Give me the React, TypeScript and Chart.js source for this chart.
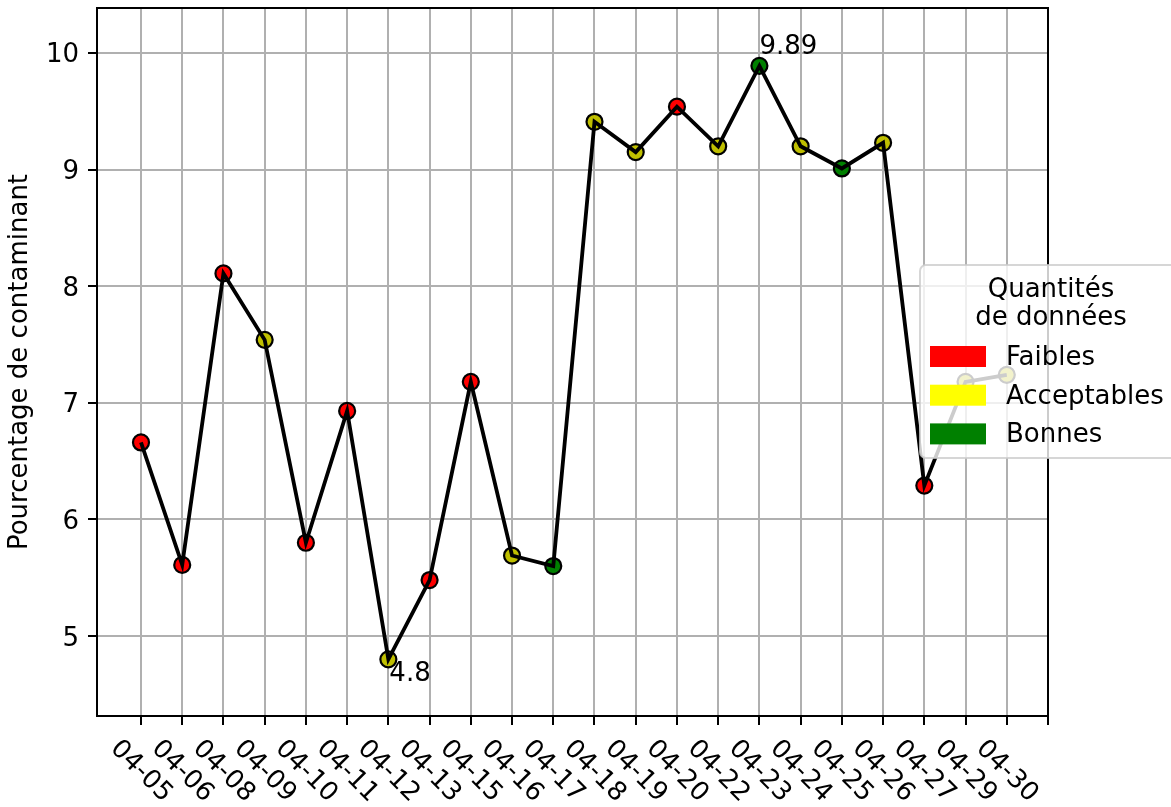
import React, { useEffect, useRef } from 'react';
import { Chart, registerables } from 'chart.js';

Chart.register(...registerables);

// ---- data ----
const dates = ['04-05', '04-06', '04-08', '04-09', '04-10', '04-11', '04-12', '04-13', '04-15', '04-16', '04-17', '04-18', '04-19', '04-20', '04-22', '04-23', '04-24', '04-25', '04-26', '04-27', '04-29', '04-30'];
const values = [6.66, 5.61, 8.11, 7.54, 5.80, 6.93, 4.8, 5.48, 7.18, 5.69, 5.60, 9.41, 9.15, 9.54, 9.20, 9.89, 9.20, 9.01, 9.23, 6.29, 7.18, 7.24];
// F = Faibles, A = Acceptables, B = Bonnes
const quality = ['F', 'F', 'F', 'A', 'F', 'F', 'A', 'F', 'F', 'A', 'B', 'A', 'A', 'F', 'A', 'B', 'A', 'B', 'A', 'F', 'A', 'A'];
const yTicks = [5, 6, 7, 8, 9, 10];
const legendKeys = ['F', 'A', 'B'];
const legendLabels = ['Faibles', 'Acceptables', 'Bonnes'];
const legendTitle = ['Quantités', 'de données'];
const yTitle = 'Pourcentage de contaminant';
const annotatedIdx = [15, 6]; // max and min

const markerColors: Record<string, string> = { F: '#ff0000', A: '#bfbf00', B: '#008000' };
const patchColors: Record<string, string> = { F: '#ff0000', A: '#ffff00', B: '#008000' };

const FONT = '"DejaVu Sans", sans-serif';
const FS = 26;

const customPlugin = {
  id: 'mplCustom',
  afterDatasetsDraw(chart: any) {
    const { ctx, chartArea: ca, scales } = chart;
    ctx.save();
    // top and right spines
    ctx.strokeStyle = '#000';
    ctx.lineWidth = 2;
    ctx.lineCap = 'square';
    ctx.beginPath();
    ctx.moveTo(ca.left, ca.top);
    ctx.lineTo(ca.right, ca.top);
    ctx.lineTo(ca.right, ca.bottom);
    ctx.stroke();

    ctx.fillStyle = '#000';
    ctx.font = `${FS}px ${FONT}`;

    // y tick labels
    ctx.textAlign = 'right';
    ctx.textBaseline = 'alphabetic';
    yTicks.forEach((v) => {
      const y = scales.y.getPixelForValue(v);
      ctx.fillText(String(v), ca.left - 9 - 9, y + FS * 0.365);
    });

    // annotations
    ctx.textAlign = 'left';
    const maxI = annotatedIdx[0];
    const minI = annotatedIdx[1];
    const px1 = scales.x.getPixelForValue(maxI);
    const py1 = scales.y.getPixelForValue(values[maxI]);
    ctx.fillText(String(values[maxI]), px1, py1 - 12);
    const px2 = scales.x.getPixelForValue(minI);
    const py2 = scales.y.getPixelForValue(values[minI]);
    ctx.fillText(String(values[minI]), px2 + 1, py2 + 22);

    // x tick labels rotated -45 (clockwise)
    const h = FS * 1.164;
    dates.forEach((d, i) => {
      const x = scales.x.getPixelForValue(i);
      const w = ctx.measureText(d).width;
      const s = (w + h) * Math.SQRT1_2;
      const top = ca.bottom + 9 + 9;
      ctx.save();
      ctx.translate(x, top + s / 2);
      ctx.rotate(Math.PI / 4);
      ctx.textAlign = 'center';
      ctx.textBaseline = 'middle';
      ctx.fillText(d, 0, 0);
      ctx.restore();
    });

    // y title
    ctx.save();
    ctx.translate(27, (ca.top + ca.bottom) / 2);
    ctx.rotate(-Math.PI / 2);
    ctx.textAlign = 'center';
    ctx.textBaseline = 'alphabetic';
    ctx.fillText(yTitle, 0, 0);
    ctx.restore();
    ctx.restore();
  },
  afterDraw(chart: any) {
    const { ctx } = chart;
    ctx.save();
    // legend box
    const bx = 920, by = 265, bw = 275, bh = 193, r = 6;
    ctx.beginPath();
    ctx.moveTo(bx + r, by);
    ctx.lineTo(bx + bw - r, by);
    ctx.arcTo(bx + bw, by, bx + bw, by + r, r);
    ctx.lineTo(bx + bw, by + bh - r);
    ctx.arcTo(bx + bw, by + bh, bx + bw - r, by + bh, r);
    ctx.lineTo(bx + r, by + bh);
    ctx.arcTo(bx, by + bh, bx, by + bh - r, r);
    ctx.lineTo(bx, by + r);
    ctx.arcTo(bx, by, bx + r, by, r);
    ctx.closePath();
    ctx.fillStyle = 'rgba(255,255,255,0.8)';
    ctx.fill();
    ctx.strokeStyle = 'rgba(204,204,204,0.8)';
    ctx.lineWidth = 2;
    ctx.stroke();

    ctx.fillStyle = '#000';
    ctx.font = `${FS}px ${FONT}`;
    ctx.textAlign = 'center';
    ctx.textBaseline = 'alphabetic';
    ctx.fillText(legendTitle[0], 1051, 297);
    ctx.fillText(legendTitle[1], 1051, 325);

    ctx.textAlign = 'left';
    legendKeys.forEach((k, i) => {
      const ry = 346 + i * 38.7;
      ctx.fillStyle = patchColors[k];
      ctx.fillRect(930, ry, 56, 21);
      ctx.fillStyle = '#000';
      ctx.fillText(legendLabels[i], 1006, ry + 19);
    });
    ctx.restore();
  },
};

export default function App() {
  const ref = useRef<HTMLCanvasElement | null>(null);
  useEffect(() => {
    if (!ref.current) return;
    const pts = values.map((v, i) => ({ x: i, y: v }));
    const chart = new Chart(ref.current, {
      type: 'scatter',
      data: {
        datasets: [
          {
            type: 'line',
            data: pts,
            borderColor: '#000',
            borderWidth: 3.8,
            pointRadius: 0,
            fill: false,
            tension: 0,
            order: 0,
          } as any,
          {
            type: 'scatter',
            data: pts,
            pointRadius: 8,
            pointBackgroundColor: quality.map((q) => markerColors[q]),
            pointBorderColor: '#000',
            pointBorderWidth: 2.2,
            order: 1,
          } as any,
        ],
      },
      options: {
        responsive: false,
        animation: false,
        devicePixelRatio: 1,
        layout: { autoPadding: false, padding: { left: 0, top: 8, right: 123, bottom: 0 } },
        plugins: { legend: { display: false }, tooltip: { enabled: false } },
        scales: {
          x: {
            type: 'linear',
            min: -1.067,
            max: dates.length,
            afterBuildTicks: (s: any) => {
              s.ticks = Array.from({ length: dates.length + 1 }, (_, i) => ({ value: i }));
            },
            afterFit: (s: any) => {
              s.height = 91;
            },
            ticks: { display: false },
            grid: { color: '#b0b0b0', lineWidth: 2, tickColor: '#000', tickWidth: 2, tickLength: 9, drawTicks: true },
            border: { display: true, color: '#000', width: 2 },
          },
          y: {
            type: 'linear',
            min: 4.314,
            max: 10.386,
            afterBuildTicks: (s: any) => {
              s.ticks = yTicks.map((v) => ({ value: v }));
            },
            afterFit: (s: any) => {
              s.width = 97;
            },
            ticks: { display: false },
            grid: { color: '#b0b0b0', lineWidth: 2, tickColor: '#000', tickWidth: 2, tickLength: 9, drawTicks: true },
            border: { display: true, color: '#000', width: 2 },
          },
        },
      } as any,
      plugins: [customPlugin],
    });
    return () => chart.destroy();
  }, []);
  return (
    <canvas
      ref={ref}
      width={1171}
      height={807}
      style={{ position: 'fixed', left: 0, top: 0, width: 1171, height: 807, background: '#fff' }}
    />
  );
}
